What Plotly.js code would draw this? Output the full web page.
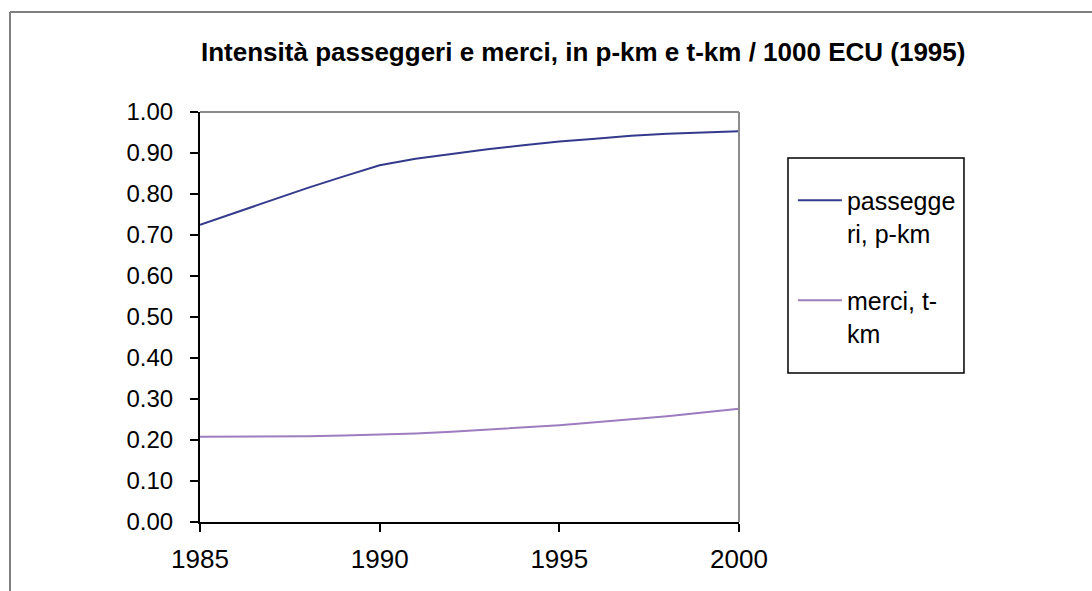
<!DOCTYPE html>
<html>
<head>
<meta charset="utf-8">
<script src="https://cdn.plot.ly/plotly-3.0.1.min.js"></script>
<style>
html,body{margin:0;padding:0;background:#fff;}
#chart{width:1092px;height:591px;}
</style>
</head>
<body>
<div id="chart"></div>
<script>
var years = [1985,1986,1987,1988,1989,1990,1991,1992,1993,1994,1995,1996,1997,1998,1999,2000];
var passeggeri = [0.725,0.755,0.785,0.815,0.843,0.870,0.886,0.898,0.909,0.919,0.928,0.935,0.942,0.947,0.950,0.953];
var merci = [0.208,0.208,0.208,0.209,0.211,0.213,0.216,0.220,0.225,0.230,0.236,0.243,0.250,0.258,0.267,0.276];
var seriesNames = ["passegge<br>ri, p-km", "merci, t-<br>km"];
var yTicks = [0,0.1,0.2,0.3,0.4,0.5,0.6,0.7,0.8,0.9,1.0];
var xTicks = [1985,1990,1995,2000];

var font = "Liberation Sans, Arial, sans-serif";

var traces = [
  {x: years, y: passeggeri, mode: "lines", name: seriesNames[0], legendgroup: "a",
   line: {color: "#333a8c", width: 2}, hoverinfo: "x+y"},
  {x: years, y: merci, mode: "lines", name: seriesNames[1], legendgroup: "b",
   line: {color: "#9e7cc0", width: 2}, hoverinfo: "x+y"}
];

var layout = {
  width: 1092, height: 591,
  margin: {l: 200, r: 353, t: 112, b: 69},
  paper_bgcolor: "#fff", plot_bgcolor: "rgba(0,0,0,0)",
  font: {family: font, color: "#000"},
  title: {text: "<b>Intensità passeggeri e merci, in p-km e t-km / 1000 ECU (1995)</b>",
          font: {family: font, size: 26, color: "#000"},
          x: 0.711, xanchor: "center", xref: "paper",
          y: 0.912, yanchor: "middle", yref: "container"},
  xaxis: {range: [1985, 2000], tickvals: xTicks, ticktext: xTicks.map(String),
          showgrid: false, zeroline: false, showline: true, linecolor: "#000", linewidth: 2,
          ticks: "outside", ticklen: 8, tickwidth: 2, tickcolor: "#000",
          tickfont: {size: 26, family: font}, ticklabelstandoff: 5, fixedrange: true},
  yaxis: {range: [0, 1], tickvals: yTicks, ticktext: yTicks.map(function(v){return v.toFixed(2);}),
          showgrid: false, zeroline: false, showline: true, linecolor: "#000", linewidth: 2,
          ticks: "outside", ticklen: 8, tickwidth: 2, tickcolor: "#000",
          tickfont: {size: 24, family: font}, ticklabelstandoff: 12, fixedrange: true},
  showlegend: true,
  legend: {x: 1.1, xanchor: "left", y: 0.84, yanchor: "top", valign: "top",
           font: {size: 25, family: font}, bgcolor: "rgba(0,0,0,0)", borderwidth: 0,
           tracegroupgap: 32, itemwidth: 44},
  shapes: [
    {type: "line", xref: "paper", yref: "paper", x0: 0, x1: 1, y0: 1, y1: 1,
     line: {color: "#8c8c8c", width: 2}},
    {type: "line", xref: "paper", yref: "paper", x0: 1, x1: 1, y0: 0, y1: 1,
     line: {color: "#8c8c8c", width: 2}},
    {type: "rect", xref: "paper", yref: "paper", x0: 1.0909, x1: 1.4174, y0: 0.3634, y1: 0.8878,
     line: {color: "#000", width: 1.5}},
    {type: "line", xref: "paper", yref: "paper", x0: -0.3525, x1: 1.66, y0: 1.2439, y1: 1.2439,
     line: {color: "#808080", width: 2}},
    {type: "line", xref: "paper", yref: "paper", x0: -0.3525, x1: -0.3525, y0: -0.2, y1: 1.2439,
     line: {color: "#808080", width: 2}}
  ]
};

Plotly.newPlot("chart", traces, layout, {displayModeBar: false, staticPlot: true});
</script>
</body>
</html>
